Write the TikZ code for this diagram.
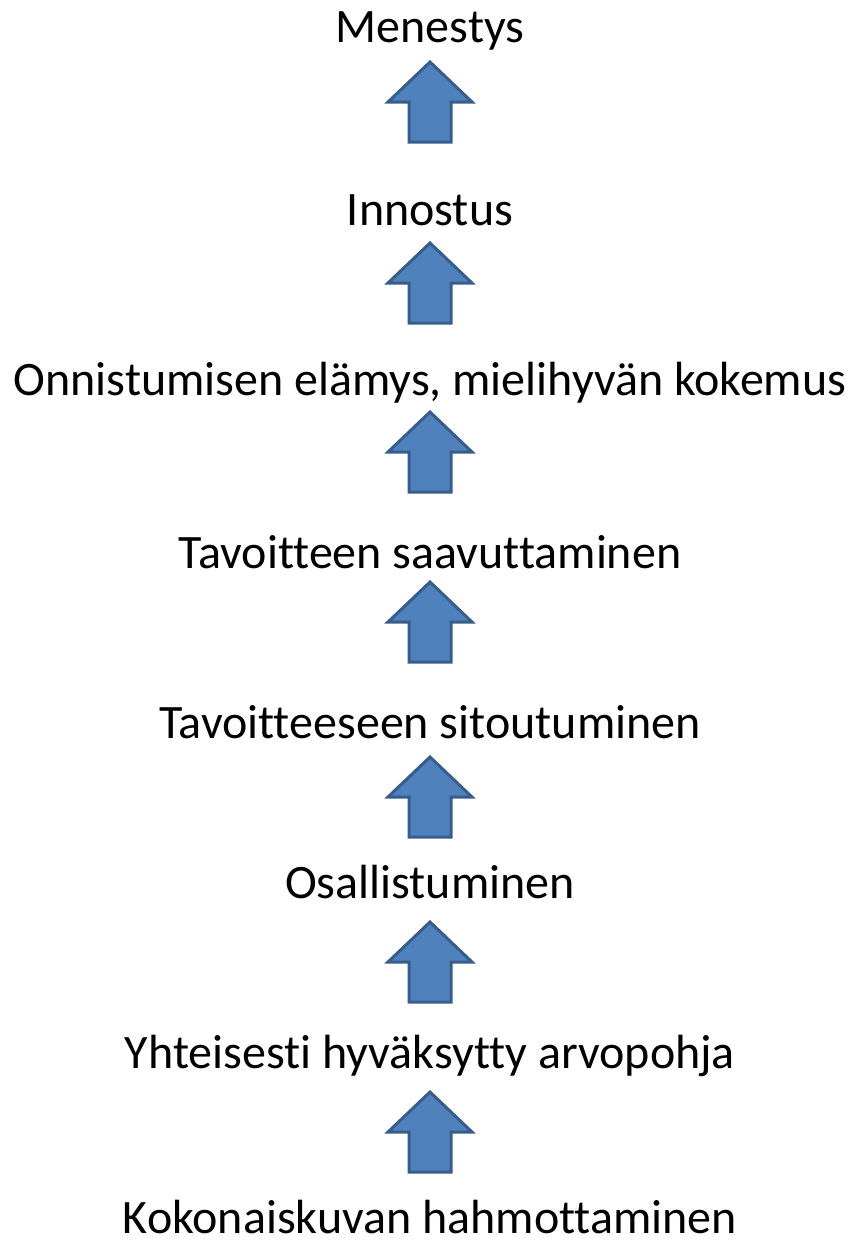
\documentclass[tikz,border=0pt]{standalone}
\usepackage{fontspec}
\setmainfont[Ligatures=NoCommon]{Carlito}
\definecolor{arrowfill}{HTML}{4F81BD}
\definecolor{arrowline}{HTML}{385D8A}
\begin{document}
\begin{tikzpicture}[x=1pt,y=-1pt,
  label/.style={anchor=base,inner sep=0pt,font=\fontsize{48}{52}\selectfont},
  uparrow/.pic={
    \draw[fill=arrowfill,draw=arrowline,line width=3pt,line join=miter]
      (0,0) -- (42,40) -- (21,40) -- (21,80) -- (-21,80) -- (-21,40) -- (-42,40) -- cycle;
  }]
\useasboundingbox (0,0) rectangle (853,1240);
% steps, from top to bottom
\node[label] (s8) at (430,42)   {Menestys};
\node[label] (s7) at (430,225)  {Innostus};
\node[label] (s6) at (430,395)  {Onnistumisen elämys, mielihyvän kokemus};
\node[label] (s5) at (430,568)  {Tavoitteen saavuttaminen};
\node[label] (s4) at (430,738)  {Tavoitteeseen sitoutuminen};
\node[label] (s3) at (430,898)  {Osallistuminen};
\node[label] (s2) at (430,1068) {Yhteisesti hyväksytty arvopohja};
\node[label] (s1) at (430,1233) {Kokonaiskuvan hahmottaminen};
% block arrows between the steps
\pic at (430,62)   {uparrow};
\pic at (430,243)  {uparrow};
\pic at (430,412)  {uparrow};
\pic at (430,582)  {uparrow};
\pic at (430,757)  {uparrow};
\pic at (430,922)  {uparrow};
\pic at (430,1092) {uparrow};
\end{tikzpicture}
\end{document}
